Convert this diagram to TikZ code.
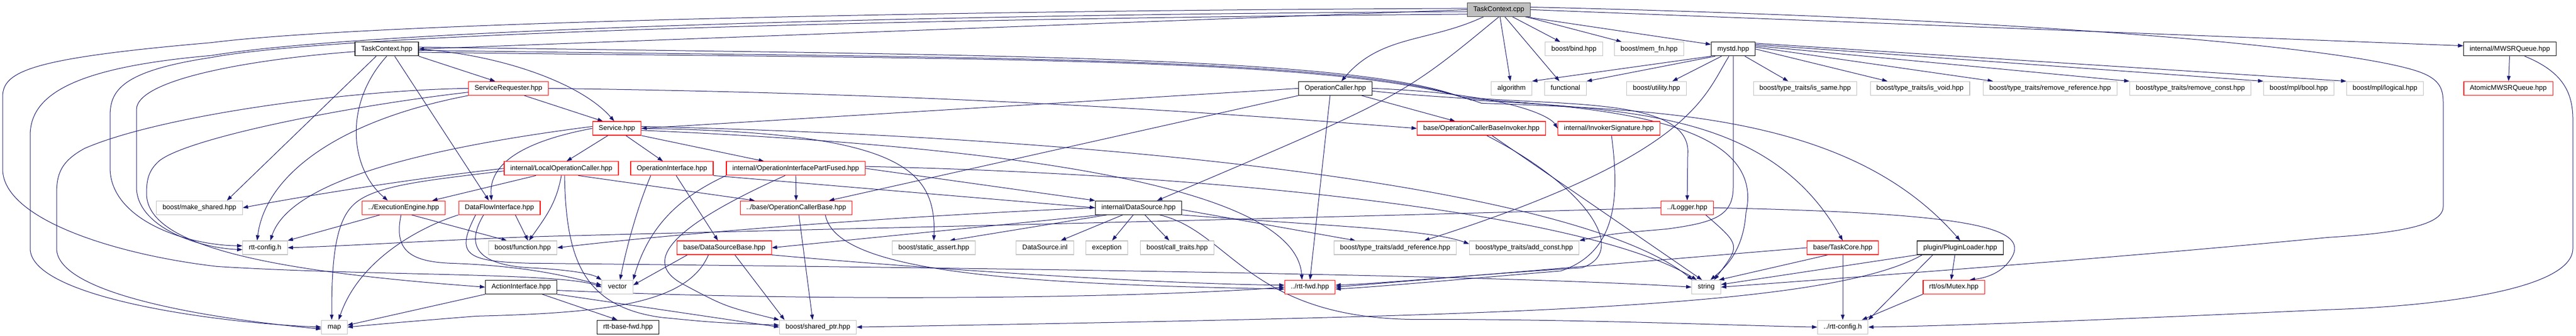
\documentclass[tikz,border=0pt]{standalone}
\usepackage{fontspec}
\setmainfont{Liberation Sans}
\usetikzlibrary{arrows.meta,calc}
\pgfdeclarelayer{edges}
\pgfsetlayers{edges,main}
\definecolor{edgeblue}{RGB}{25,25,112}
\definecolor{extgrey}{RGB}{191,191,191}
\definecolor{truncred}{RGB}{255,0,0}

\begin{document}
\begin{tikzpicture}[x=1pt, y=1.2212pt,
    file/.style={draw, rectangle, line width=1.2pt, fill=white,
        inner xsep=11.5pt, inner ysep=0pt, minimum height=26pt,
        text height=9.6pt, text depth=3pt,
        font=\fontsize{13}{15}\selectfont},
    extfile/.style={file, draw=extgrey},
    redfile/.style={file, draw=truncred},
    docfile/.style={file, draw=black},
    rootfile/.style={file, draw=black!75, fill=extgrey},
    dep/.style={draw=edgeblue, line width=1pt, -{Triangle[length=10pt,width=7pt]}}]

\useasboundingbox (0,0) rectangle (4869,-520);

% rank 0 and 1
\node[rootfile] (nodeTCcpp) at (2833,-15) {TaskContext.cpp};
\node[docfile] (nodeTChpp) at (731,-76) {TaskContext.hpp};
\node[extfile] (nodeBind) at (2975,-76) {boost/bind.hpp};
\node[extfile] (nodeMemFn) at (3117,-76) {boost/mem\_fn.hpp};
\node[docfile] (nodeMystd) at (3276,-76) {mystd.hpp};
\node[docfile] (nodeMWSR) at (4744,-76) {internal/MWSRQueue.hpp};
% rank 2
\node[redfile] (nodeSReq) at (961,-137) {ServiceRequester.hpp};
\node[docfile] (nodeOpCaller) at (2524,-137) {OperationCaller.hpp};
\node[extfile] (nodeAlgorithm) at (2857,-137) {algorithm};
\node[extfile] (nodeFunctional) at (2959,-137) {functional};
\node[extfile] (nodeUtility) at (3131,-137) {boost/utility.hpp};
\node[extfile] (nodeIsSame) at (3412,-137) {boost/type\_traits/is\_same.hpp};
\node[extfile] (nodeIsVoid) at (3629,-137) {boost/type\_traits/is\_void.hpp};
\node[extfile] (nodeRmRef) at (3875,-137) {boost/type\_traits/remove\_reference.hpp};
\node[extfile] (nodeRmConst) at (4140,-137) {boost/type\_traits/remove\_const.hpp};
\node[extfile] (nodeMplBool) at (4345,-137) {boost/mpl/bool.hpp};
\node[extfile] (nodeMplLogical) at (4508,-137) {boost/mpl/logical.hpp};
\node[redfile] (nodeAtomic) at (4741,-137) {AtomicMWSRQueue.hpp};
% rank 3
\node[redfile] (nodeService) at (1166,-199) {Service.hpp};
\node[redfile] (nodeOCBInvoker) at (2800,-199) {base/OperationCallerBaseInvoker.hpp};
\node[redfile] (nodeInvSig) at (3041,-199) {internal/InvokerSignature.hpp};
% rank 4
\node[redfile] (nodeLocalOC) at (1061,-261) {internal/LocalOperationCaller.hpp};
\node[redfile] (nodeOpIface) at (1270,-261) {OperationInterface.hpp};
\node[redfile] (nodeOIPF) at (1504,-261) {internal/OperationInterfacePartFused.hpp};
% rank 5
\node[extfile] (nodeMakeShared) at (377,-322) {boost/make\_shared.hpp};
\node[redfile] (nodeExec) at (763,-322) {../ExecutionEngine.hpp};
\node[redfile] (nodeDFI) at (944,-322) {DataFlowInterface.hpp};
\node[redfile] (nodeOCBase) at (1505,-322) {../base/OperationCallerBase.hpp};
\node[docfile] (nodeDataSource) at (2152,-322) {internal/DataSource.hpp};
\node[redfile] (nodeLogger) at (3189,-322) {../Logger.hpp};
% rank 6
\node[extfile] (nodeRttConfig) at (501,-384) {rtt-config.h};
\node[extfile] (nodeFunction) at (988,-384) {boost/function.hpp};
\node[redfile] (nodeDSBase) at (1369,-384) {base/DataSourceBase.hpp};
\node[extfile] (nodeStaticAssert) at (1765,-384) {boost/static\_assert.hpp};
\node[extfile] (nodeDSInl) at (1975,-384) {DataSource.inl};
\node[extfile] (nodeException) at (2092,-384) {exception};
\node[extfile] (nodeCallTraits) at (2225,-384) {boost/call\_traits.hpp};
\node[extfile] (nodeAddRef) at (2637,-384) {boost/type\_traits/add\_reference.hpp};
\node[extfile] (nodeAddConst) at (2881,-384) {boost/type\_traits/add\_const.hpp};
\node[redfile] (nodeTaskCore) at (3483,-384) {base/TaskCore.hpp};
\node[docfile] (nodePlugin) at (3705,-384) {plugin/PluginLoader.hpp};
% rank 7
\node[docfile] (nodeAction) at (985,-445) {ActionInterface.hpp};
\node[extfile] (nodeVector) at (1167,-445) {vector};
\node[redfile] (nodeRttFwd) at (2476,-445) {../rtt-fwd.hpp};
\node[extfile] (nodeString) at (3225,-445) {string};
\node[redfile] (nodeMutex) at (3693,-445) {rtt/os/Mutex.hpp};
% rank 8
\node[extfile] (nodeMap) at (632,-507) {map};
\node[docfile] (nodeBaseFwd) at (1187,-507) {rtt-base-fwd.hpp};
\node[extfile] (nodeSharedPtr) at (1546,-507) {boost/shared\_ptr.hpp};
\node[extfile] (nodeRttConfigB) at (3483,-507) {../rtt-config.h};

\begin{pgfonlayer}{edges}
% TaskContext.cpp
\draw[dep] (nodeTCcpp.west) -- (nodeTChpp.east);
\draw[dep] (nodeTCcpp) -- (nodeBind);
\draw[dep] (nodeTCcpp) -- (nodeMemFn);
\draw[dep] ($(nodeTCcpp.south east)+(-10,0)$) -- ($(nodeMystd.north west)+(0,-4)$);
\draw[dep] (nodeTCcpp.east) -- ($(nodeMWSR.west)+(0,5)$);
\draw[dep] (nodeTCcpp) -- (nodeAlgorithm);
\draw[dep] (nodeTCcpp) -- (nodeFunctional);
\draw[dep] (nodeTCcpp) to[out=205,in=50] (nodeOpCaller);
\draw[dep] (nodeTCcpp.south) .. controls (2650,-150) .. ($(nodeDataSource.north)+(35,0)$);
\draw[dep] ($(nodeTCcpp.west)+(0,2)$) .. controls (1800,-16) and (700,-35) .. (400,-66)
    .. controls (60,-90) and (5,-110) .. (5,-150) -- (5,-262)
    .. controls (5,-340) and (220,-395) .. (410,-413)
    .. controls (700,-428) and (1060,-422) .. (nodeVector.west);
\draw[dep] ($(nodeTCcpp.west)+(0,-3)$) .. controls (1800,-22) and (700,-45) .. (400,-86)
    .. controls (130,-105) and (57,-150) .. (57,-210) -- (57,-385)
    .. controls (57,-460) and (400,-500) .. (nodeMap.west);
\draw[dep] ($(nodeTCcpp.west)+(0,-7)$) .. controls (1800,-28) and (650,-50) .. (400,-89)
    .. controls (230,-110) and (208,-140) .. (208,-180) -- (208,-260)
    .. controls (208,-340) and (350,-380) .. ($(nodeRttConfig.west)+(0,3)$);
\draw[dep] ($(nodeTCcpp.east)+(0,4)$) .. controls (3800,-28) and (4400,-70) .. (4560,-108)
    .. controls (4610,-120) and (4618,-135) .. (4618,-160) -- (4618,-320)
    .. controls (4618,-345) and (4560,-360) .. (4400,-368)
    .. controls (4000,-400) and (3500,-430) .. (nodeString.east);

% TaskContext.hpp
\draw[dep] ($(nodeTChpp.south)+(-20,0)$) -- ($(nodeMakeShared.north east)+(-30,0)$);
\draw[dep] (nodeTChpp.south) .. controls (650,-160) and (660,-260) .. ($(nodeExec.north)+(-30,0)$);
\draw[dep] ($(nodeTChpp.south)+(15,0)$) -- ($(nodeDFI.north)+(-20,0)$);
\draw[dep] (nodeTChpp.south east) -- ($(nodeSReq.north)+(-25,0)$);
\draw[dep] (nodeTChpp.east) .. controls (950,-85) and (1100,-130) .. ($(nodeService.north)+(-5,0)$);
\draw[dep] ($(nodeTChpp.west)+(0,-4)$) .. controls (500,-90) and (258,-120) .. (258,-170) -- (258,-290)
    .. controls (258,-350) and (370,-384) .. ($(nodeRttConfig.west)+(0,-3)$);
\draw[dep] ($(nodeTChpp.east)+(0,3)$) .. controls (1800,-85) and (2550,-85) .. (2760,-150)
    .. controls (2950,-165) and (3200,-150) .. (3190,-240) -- (nodeLogger.north);
\draw[dep] ($(nodeTChpp.east)+(0,-2)$) .. controls (1800,-90) and (2550,-85) .. (2780,-155)
    .. controls (3100,-170) and (3350,-180) .. (nodeTaskCore.north);
\draw[dep] ($(nodeTChpp.east)+(0,-5)$) .. controls (1800,-92) and (2550,-85) .. (2800,-160)
    .. controls (3150,-170) and (3500,-180) .. (nodePlugin.north);

% ServiceRequester.hpp
\draw[dep] ($(nodeSReq.south)+(30,0)$) -- ($(nodeService.north west)+(20,0)$);
\draw[dep] (nodeSReq.east) .. controls (1800,-145) and (2300,-175) .. (nodeOCBInvoker.west);
\draw[dep] (nodeSReq.south west) .. controls (620,-190) and (500,-280) .. ($(nodeRttConfig.north)+(-15,0)$);
\draw[dep] (nodeSReq.west) .. controls (650,-140) and (300,-180) .. (160,-230)
    .. controls (115,-250) and (107,-270) .. (107,-300) -- (107,-385)
    .. controls (107,-450) and (350,-490) .. ($(nodeMap.west)+(0,-3)$);
\draw[dep] ($(nodeSReq.west)+(0,-6)$) .. controls (650,-165) and (350,-215) .. (300,-250)
    .. controls (280,-265) and (277,-280) .. (277,-300)
    .. controls (277,-380) and (500,-420) .. (nodeAction.west);

% Service.hpp
\draw[dep] ($(nodeService.south)+(-17,0)$) -- ($(nodeLocalOC.north)+(10,0)$);
\draw[dep] ($(nodeService.south)+(17,0)$) -- ($(nodeOpIface.north)+(-17,0)$);
\draw[dep] (nodeService.south east) -- ($(nodeOIPF.north)+(-60,0)$);
\draw[dep] (nodeService.west) .. controls (950,-225) and (925,-270) .. ($(nodeDFI.north)+(-15,0)$);
\draw[dep] ($(nodeService.west)+(0,3)$) .. controls (700,-240) and (540,-300) .. ($(nodeRttConfig.north)+(10,0)$);
\draw[dep] (nodeService.east) .. controls (1700,-205) and (1770,-260) .. (nodeStaticAssert.north);
\draw[dep] ($(nodeService.east)+(0,-3)$) .. controls (2000,-230) and (2450,-300) .. ($(nodeRttFwd.north)+(-15,0)$);
\draw[dep] ($(nodeService.east)+(0,3)$) .. controls (2200,-215) and (3000,-300) .. ($(nodeString.north west)+(2,0)$);

% internal/LocalOperationCaller.hpp
\draw[dep] (nodeLocalOC.south) to[out=-100,in=55] ($(nodeFunction.north)+(12,0)$);
\draw[dep] ($(nodeLocalOC.south)+(6,0)$) .. controls (1070,-400) and (1100,-475) .. (1250,-492)
    .. controls (1350,-500) .. ($(nodeSharedPtr.west)+(0,3)$);
\draw[dep] ($(nodeLocalOC.south)+(-48,0)$) -- ($(nodeExec.north east)+(-25,0)$);
\draw[dep] ($(nodeLocalOC.south)+(32,0)$) -- ($(nodeOCBase.north west)+(28,0)$);
\draw[dep] (nodeLocalOC.west) .. controls (800,-275) and (600,-300) .. (nodeMakeShared.east);
\draw[dep] ($(nodeLocalOC.west)+(0,-4)$) .. controls (800,-280) and (700,-288) .. (665,-320)
    .. controls (630,-350) and (627,-420) .. ($(nodeMap.north)+(-5,0)$);

% OperationInterface.hpp
\draw[dep] ($(nodeOpIface.south)+(8,0)$) -- ($(nodeDSBase.north)+(-12,0)$);
\draw[dep] ($(nodeOpIface.south)+(-40,0)$) .. controls (1200,-330) and (1180,-400) .. ($(nodeVector.north)+(5,0)$);
\draw[dep] (nodeOpIface.south east) -- (nodeDataSource.west);

% internal/OperationInterfacePartFused.hpp
\draw[dep] (nodeOIPF) -- (nodeOCBase);
\draw[dep] (nodeOIPF.south west) .. controls (1300,-300) and (1230,-340) .. (nodeVector.north east);
\draw[dep] ($(nodeOIPF.south)+(-20,0)$) .. controls (1300,-340) and (1200,-400) .. (1290,-440)
    .. controls (1370,-475) .. (nodeSharedPtr.north west);
\draw[dep] (nodeOIPF.east) -- (nodeDataSource.north west);
\draw[dep] ($(nodeOIPF.east)+(0,3)$) .. controls (2300,-270) and (3000,-330) .. ($(nodeString.north west)+(10,0)$);

% ../ExecutionEngine.hpp
\draw[dep] ($(nodeExec.south)+(-45,0)$) -- (nodeRttConfig.north east);
\draw[dep] ($(nodeExec.south)+(15,0)$) -- ($(nodeFunction.north)+(-30,0)$);
\draw[dep] ($(nodeExec.south)+(-5,0)$) .. controls (745,-385) and (770,-405) .. (850,-408)
    .. controls (1000,-412) and (1080,-430) .. ($(nodeVector.west)+(0,3)$);

% DataFlowInterface.hpp
\draw[dep] ($(nodeDFI.south)+(30,0)$) -- ($(nodeFunction.north)+(10,0)$);
\draw[dep] (nodeDFI.south west) .. controls (800,-350) and (680,-400) .. ($(nodeMap.north)+(8,0)$);
\draw[dep] ($(nodeDFI.south)+(-30,0)$) .. controls (880,-380) and (900,-410) .. (1000,-415)
    .. controls (1080,-418) and (1120,-425) .. (nodeVector.north west);
\draw[dep] ($(nodeDFI.south)+(-45,0)$) .. controls (860,-395) and (880,-405) .. (1000,-408)
    .. controls (1800,-415) and (2800,-425) .. (nodeString.west);

% ../base/OperationCallerBase.hpp
\draw[dep] ($(nodeOCBase.south)+(5,0)$) -- ($(nodeSharedPtr.north)+(-10,0)$);
\draw[dep] ($(nodeOCBase.south)+(55,0)$) .. controls (1580,-420) and (1900,-440) .. ($(nodeRttFwd.west)+(0,-3)$);

% internal/DataSource.hpp
\draw[dep] ($(nodeDataSource.south)+(-30,0)$) -- ($(nodeDSInl.north)+(30,0)$);
\draw[dep] ($(nodeDataSource.south)+(-10,0)$) -- ($(nodeException.north)+(10,0)$);
\draw[dep] ($(nodeDataSource.south)+(12,0)$) -- ($(nodeCallTraits.north)+(-15,0)$);
\draw[dep] ($(nodeDataSource.east)+(0,-3)$) -- ($(nodeAddRef.north)+(-75,0)$);
\draw[dep] (nodeDataSource.south east) .. controls (2500,-350) and (2700,-355) .. ($(nodeAddConst.west)+(0,6)$);
\draw[dep] ($(nodeDataSource.south west)+(10,0)$) -- (nodeDSBase.east);
\draw[dep] ($(nodeDataSource.south)+(-60,0)$) -- ($(nodeStaticAssert.north)+(30,0)$);
\draw[dep] (nodeDataSource.west) .. controls (1700,-335) and (1300,-360) .. (nodeFunction.east);
\draw[dep] ($(nodeDataSource.south)+(40,0)$) .. controls (2330,-360) and (2360,-500) .. (2700,-495)
    .. controls (3000,-495) and (3300,-505) .. (nodeRttConfigB.west);

% base/DataSourceBase.hpp
\draw[dep] ($(nodeDSBase.south west)+(20,0)$) -- ($(nodeVector.east)+(0,3)$);
\draw[dep] ($(nodeDSBase.south)+(-30,0)$) .. controls (1300,-470) and (1150,-485) .. (900,-490)
    .. controls (750,-500) .. (nodeMap.east);
\draw[dep] ($(nodeDSBase.south)+(20,0)$) -- ($(nodeSharedPtr.north west)+(10,0)$);
\draw[dep] (nodeDSBase.south east) .. controls (1800,-420) and (2200,-440) .. ($(nodeRttFwd.west)+(0,3)$);

% ActionInterface.hpp
\draw[dep] ($(nodeAction.south)+(40,0)$) -- ($(nodeBaseFwd.north)+(-20,0)$);
\draw[dep] (nodeAction.south west) -- ($(nodeMap.east)+(0,3)$);
\draw[dep] (nodeAction.south east) -- (nodeSharedPtr.west);
\draw[dep] ($(nodeAction.east)+(0,-5)$) .. controls (1600,-470) and (2200,-460) .. (nodeRttFwd.west);

% OperationCaller.hpp
\draw[dep] (nodeOpCaller) -- (nodeOCBInvoker);
\draw[dep] (nodeOpCaller.west) -- (nodeService.east);
\draw[dep] (nodeOpCaller.south west) -- ($(nodeOCBase.north)+(62,0)$);
\draw[dep] ($(nodeOpCaller.south)+(-10,0)$) -- (nodeRttFwd.north);
\draw[dep] (nodeOpCaller.east) .. controls (2850,-145) and (2930,-180) .. (nodeInvSig.west);
\draw[dep] ($(nodeOpCaller.east)+(0,-4)$) .. controls (2850,-165) and (3350,-150) .. (3300,-330)
    .. controls (3295,-390) and (3260,-415) .. ($(nodeString.north)+(8,0)$);

% base/OperationCallerBaseInvoker.hpp, internal/InvokerSignature.hpp
\draw[dep] ($(nodeOCBInvoker.south)+(20,0)$) -- ($(nodeString.north)+(-8,0)$);
\draw[dep] ($(nodeOCBInvoker.south)+(10,0)$) .. controls (3000,-290) and (3080,-390) .. (2990,-415)
    .. controls (2800,-425) and (2600,-440) .. ($(nodeRttFwd.east)+(0,3)$);
\draw[dep] ($(nodeInvSig.south)+(5,0)$) .. controls (3060,-300) and (3060,-390) .. (2950,-420)
    .. controls (2800,-430) and (2600,-445) .. ($(nodeRttFwd.east)+(0,-3)$);

% ../Logger.hpp
\draw[dep] ($(nodeLogger.south)+(35,0)$) .. controls (3290,-380) .. ($(nodeString.north)+(15,0)$);
\draw[dep] (nodeLogger.east) .. controls (3700,-330) and (3830,-350) .. (3805,-395)
    .. controls (3790,-420) and (3760,-430) .. ($(nodeMutex.north)+(30,0)$);
\draw[dep] (nodeLogger.west) .. controls (2400,-340) and (1300,-360) .. (1100,-365)
    .. controls (900,-368) and (700,-380) .. (nodeRttConfig.east);

% mystd.hpp
\draw[dep] ($(nodeMystd.south east)+(-20,0)$) -- ($(nodeIsSame.north)+(-32,0)$);
\draw[dep] (nodeMystd.east) -- ($(nodeIsVoid.north west)+(33,0)$);
\draw[dep] ($(nodeMystd.east)+(0,3)$) -- ($(nodeRmRef.north west)+(19,0)$);
\draw[dep] ($(nodeMystd.east)+(0,5)$) -- (nodeRmConst.north west);
\draw[dep] ($(nodeMystd.east)+(0,7)$) -- (nodeMplBool.north west);
\draw[dep] ($(nodeMystd.east)+(0,9)$) -- (nodeMplLogical.north west);
\draw[dep] ($(nodeMystd.south west)+(20,0)$) -- ($(nodeUtility.north)+(30,0)$);
\draw[dep] (nodeMystd.south west) -- (nodeAlgorithm.north east);
\draw[dep] ($(nodeMystd.south west)+(8,0)$) -- (nodeFunctional.north east);
\draw[dep] ($(nodeMystd.south)+(-8,0)$) .. controls (3220,-150) and (3200,-240) .. ($(nodeAddRef.north)+(55,0)$);
\draw[dep] (nodeMystd.south) -- (3276,-290) .. controls (3276,-335) and (3240,-345) .. (3150,-355)
    .. controls (3050,-362) .. (nodeAddConst.north east);

% internal/MWSRQueue.hpp
\draw[dep] (nodeMWSR) -- (nodeAtomic);
\draw[dep] ($(nodeMWSR.south east)+(-60,0)$) .. controls (4840,-110) and (4863,-140) .. (4863,-185) -- (4863,-385)
    .. controls (4863,-450) and (4600,-475) .. (4400,-480)
    .. controls (4000,-495) and (3700,-505) .. (nodeRttConfigB.east);

% base/TaskCore.hpp, plugin/PluginLoader.hpp, rtt/os/Mutex.hpp
\draw[dep] (nodeTaskCore) -- (nodeRttConfigB);
\draw[dep] ($(nodeTaskCore.south west)+(40,0)$) -- ($(nodeString.north east)+(-4,0)$);
\draw[dep] (nodeTaskCore.west) -- (nodeRttFwd.east);
\draw[dep] ($(nodePlugin.south)+(-10,0)$) -- ($(nodeMutex.north)+(-5,0)$);
\draw[dep] (nodePlugin.south west) -- ($(nodeString.east)+(0,4)$);
\draw[dep] ($(nodePlugin.south west)+(30,0)$) -- (nodeRttConfigB.north east);
\draw[dep] ($(nodePlugin.south west)+(10,0)$) .. controls (3450,-480) and (2800,-490) .. (nodeSharedPtr.east);
\draw[dep] (nodeMutex.south west) -- ($(nodeRttConfigB.north east)+(-12,0)$);
\end{pgfonlayer}
\end{tikzpicture}
\end{document}
